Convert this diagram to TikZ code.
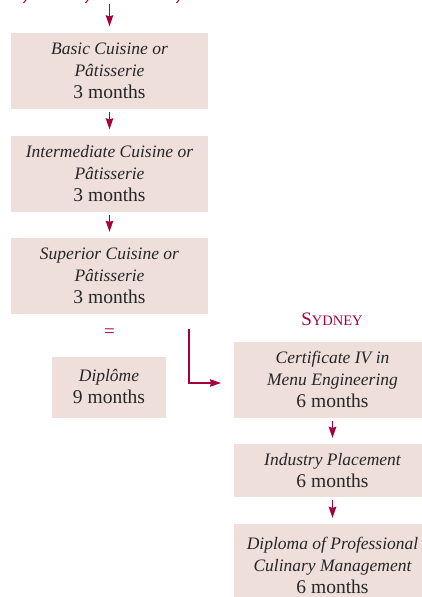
\documentclass[tikz,border=0pt]{standalone}
\usepackage{fontspec}
\newfontfamily\boxfont{Liberation Serif}
\usetikzlibrary{arrows.meta}
\definecolor{crim}{HTML}{A3003C}
\definecolor{boxfill}{HTML}{EEDFDB}
\definecolor{txt}{HTML}{262626}
\newcommand{\itl}[1]{{\boxfont\fontsize{17.5}{22}\selectfont\itshape #1}}
\newcommand{\upl}[1]{{\boxfont\fontsize{19.5}{22}\selectfont #1}}
\begin{document}
\begin{tikzpicture}[x=1pt,y=-1pt,
  box/.style={fill=boxfill, inner sep=0pt, text=txt, align=center,
    font=\fontsize{17}{22}\selectfont, minimum width=197pt},
  arr/.style={draw=crim, line width=1.3pt, -{Stealth[length=11pt,width=7.5pt,inset=1pt]}},
  tick/.style={draw=crim, line width=1pt},
  lbl/.style={text=crim, inner sep=0pt, font=\boxfont}]
\useasboundingbox (0,0) rectangle (421,597);
% cut-off marks at the top
\draw[tick] (26,0) -- (23.5,3);
\draw[tick] (88,0) -- (85.5,3);
\draw[tick] (179,0) -- (176.5,3);
\coordinate (top) at (109.5,4);
\node[box, minimum height=76pt] (b1) at (109.5,70.5) {\itl{Basic Cuisine or}\\\itl{Pâtisserie}\\\upl{3 months}};
\node[box, minimum height=76pt] (b2) at (109.5,173.5) {\itl{Intermediate Cuisine or}\\\itl{Pâtisserie}\\\upl{3 months}};
\node[box, minimum height=76pt] (b3) at (109.5,276) {\itl{Superior Cuisine or}\\\itl{Pâtisserie}\\\upl{3 months}};
\node[lbl] (eq) at (109.5,333) {\fontsize{19}{20}\selectfont =};
\node[box, minimum width=114pt, minimum height=61pt] (dip) at (109,387) {\itl{Diplôme}\\\upl{9 months}};
\node[lbl] (syd) at (332,319) {\fontsize{19}{20}\selectfont S\fontsize{14.5}{20}\selectfont YDNEY};
\node[box, minimum height=76pt] (cert) at (332.5,379.5) {\itl{Certificate IV in}\\\itl{Menu Engineering}\\\upl{6 months}};
\node[box, minimum height=53pt] (ind) at (332.5,470.5) {\itl{Industry Placement}\\\upl{6 months}};
\node[box, minimum height=82pt] (dpm) at (332.5,565) {\itl{Diploma of Professional}\\\itl{Culinary Management}\\\upl{6 months}};
\coordinate (elS) at (189,329);
\coordinate (elE) at (221,383);
\draw[arr] (top) -- ([yshift=6pt]b1.north);
\draw[arr] ([yshift=-3pt]b1.south) -- ([yshift=6pt]b2.north);
\draw[arr] ([yshift=-3pt]b2.south) -- ([yshift=6pt]b3.north);
\draw[arr] (elS) |- (elE);
\draw[arr] ([yshift=-3pt]cert.south) -- ([yshift=6pt]ind.north);
\draw[arr] ([yshift=-3pt]ind.south) -- ([yshift=6pt]dpm.north);
\end{tikzpicture}
\end{document}
